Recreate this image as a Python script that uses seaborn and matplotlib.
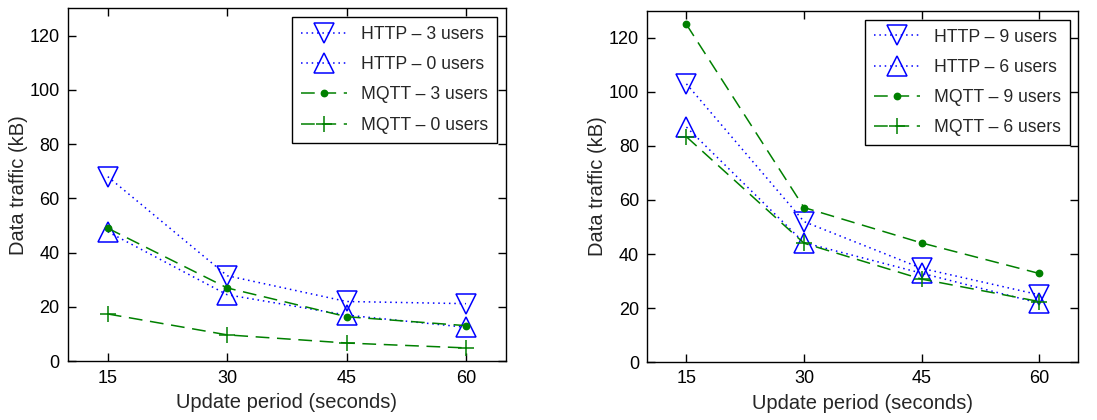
import matplotlib
matplotlib.use("Agg")
import matplotlib.pyplot as plt
import seaborn as sns
import pandas as pd

# update periods (seconds)
periods = [15, 30, 45, 60]

# left panel: 3 / 0 users
http_3 = [68, 31.5, 22, 21.2]
http_0 = [47.7, 24.5, 17, 12.5]
mqtt_3 = [49, 27, 16.4, 13.1]
mqtt_0 = [17.4, 9.7, 6.7, 4.9]

# right panel: 9 / 6 users
http_9 = [103, 52, 34.7, 24.9]
http_6 = [87, 44.2, 32.9, 21.8]
mqtt_9 = [125, 57.2, 44.1, 32.8]
mqtt_6 = [83.4, 44, 30.7, 22.4]

BLUE = (0, 0, 1)
GREEN = (0, 0.5, 0)
DOT = (0, (1, 2.5))
DASH = (0, (9, 5))

sns.set_theme(style="ticks", rc={"xtick.direction": "in", "ytick.direction": "in",
                                 "xtick.top": True, "ytick.right": True,
                                 "xtick.major.size": 5, "ytick.major.size": 5})
plt.rcParams['font.family'] = ['Liberation Sans', 'DejaVu Sans']

fig = plt.figure(figsize=(10.97, 4.2), dpi=100)
ax1 = fig.add_axes([0.062, 0.140, 0.399, 0.840])
ax2 = fig.add_axes([0.590, 0.138, 0.393, 0.836])


def draw(ax, series):
    for label, vals, color, ls, marker, ms in series:
        df = pd.DataFrame({"period": periods, "traffic": vals})
        filled = marker == "o"
        sns.lineplot(data=df, x="period", y="traffic", ax=ax, color=color,
                     linestyle=ls, linewidth=1.1, marker=marker, markersize=ms,
                     markerfacecolor=color if filled else "none",
                     markeredgecolor=color, markeredgewidth=1.1, label=label)
    ax.set_xlim(10, 65)
    ax.set_ylim(0, 130)
    ax.set_xticks(periods)
    ax.set_yticks(range(0, 121, 20))
    ax.set_xlabel("Update period (seconds)", fontsize=14.5, labelpad=5)
    ax.set_ylabel("Data traffic (kB)", fontsize=14.5, labelpad=1)
    ax.tick_params(which="major", direction="in", length=5.5, width=1.0,
                   bottom=True, left=True, top=True, right=True,
                   labelsize=13, color="black", labelcolor="black", pad=6)
    for sp in ax.spines.values():
        sp.set_color("black")
        sp.set_linewidth(1.0)
    leg = ax.legend(loc="upper right", bbox_to_anchor=(1, 1), borderaxespad=0.5,
                    fontsize=12.7, handlelength=2.6, labelspacing=0.75, borderpad=0.5,
                    fancybox=False, framealpha=1, edgecolor="black")
    leg.get_frame().set_linewidth(1.0)


draw(ax1, [
    ("HTTP \u2013 3 users", http_3, BLUE, DOT, "v", 15),
    ("HTTP \u2013 0 users", http_0, BLUE, DOT, "^", 15),
    ("MQTT \u2013 3 users", mqtt_3, GREEN, DASH, "o", 4.5),
    ("MQTT \u2013 0 users", mqtt_0, GREEN, DASH, "+", 11),
])
draw(ax2, [
    ("HTTP \u2013 9 users", http_9, BLUE, DOT, "v", 15),
    ("HTTP \u2013 6 users", http_6, BLUE, DOT, "^", 15),
    ("MQTT \u2013 9 users", mqtt_9, GREEN, DASH, "o", 4.5),
    ("MQTT \u2013 6 users", mqtt_6, GREEN, DASH, "+", 11),
])

fig.savefig("out.png", dpi=100)
